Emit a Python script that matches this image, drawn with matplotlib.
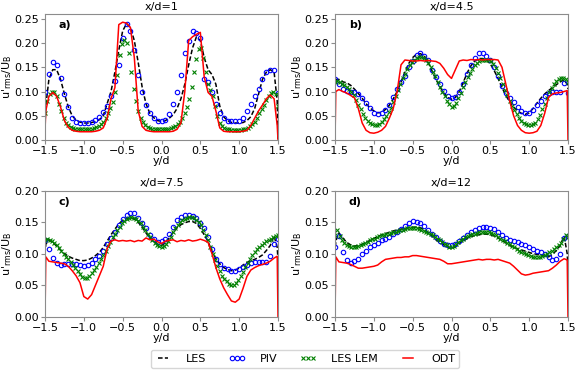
import numpy as np
import matplotlib
matplotlib.use('Agg')
import matplotlib.pyplot as plt

plt.rcParams['font.family'] = ['DejaVu Sans']
plt.rcParams['font.size'] = 8

# sample positions (y/d)
y_line = np.r_[-1.5, -1.49, np.round(np.arange(-1.45, 1.451, 0.05), 2), 1.49, 1.5]
y_piv = np.round(np.arange(-1.5, 1.501, 0.05), 2)
y_lem = np.round(np.arange(-1.5, 1.501, 0.03), 2)

titles = ['x/d=1', 'x/d=4.5', 'x/d=7.5', 'x/d=12']
tags = ['a)', 'b)', 'c)', 'd)']
y_tops = [0.26, 0.26, 0.2, 0.2]

# ---- x/d = 1
les_a = [0.03, 0.07,
         0.125, 0.145, 0.145, 0.125, 0.095, 0.068, 0.05, 0.041, 0.037, 0.035,
         0.035, 0.036, 0.038, 0.042, 0.05, 0.075, 0.1, 0.14, 0.185, 0.225,
         0.24, 0.232, 0.205, 0.16, 0.11, 0.075, 0.055, 0.046, 0.04, 0.038,
         0.04, 0.045, 0.052, 0.065, 0.085, 0.115, 0.155, 0.19, 0.213, 0.205,
         0.17, 0.145, 0.135, 0.115, 0.07, 0.048, 0.04, 0.036, 0.035, 0.035,
         0.036, 0.04, 0.048, 0.065, 0.095, 0.125, 0.14, 0.145, 0.14,
         0.08, 0.0]
odt_a = [0.02, 0.06,
         0.09, 0.098, 0.09, 0.068, 0.04, 0.026, 0.02, 0.018, 0.017, 0.017,
         0.017, 0.017, 0.018, 0.02, 0.025, 0.045, 0.085, 0.108, 0.238, 0.243,
         0.241, 0.232, 0.17, 0.06, 0.028, 0.02, 0.018, 0.017, 0.017, 0.017,
         0.017, 0.017, 0.018, 0.022, 0.035, 0.1, 0.205, 0.213, 0.218, 0.222,
         0.13, 0.098, 0.09, 0.06, 0.025, 0.018, 0.017, 0.017, 0.017, 0.017,
         0.018, 0.02, 0.03, 0.045, 0.06, 0.072, 0.085, 0.093, 0.085,
         0.03, 0.0]
piv_a = [0.1, 0.137, 0.16, 0.155, 0.128, 0.095, 0.068, 0.046, 0.037, 0.035,
         0.035, 0.036, 0.037, 0.042, 0.048, 0.058, 0.07, 0.09, 0.122, 0.155,
         0.21, 0.24, 0.225, 0.185, 0.135, 0.1, 0.072, 0.055, 0.046, 0.04,
         0.039, 0.042, 0.053, 0.075, 0.1, 0.135, 0.18, 0.205, 0.224, 0.22,
         0.21, 0.125, 0.12, 0.1, 0.075, 0.055, 0.045, 0.04, 0.039, 0.04,
         0.04, 0.045, 0.06, 0.075, 0.09, 0.105, 0.125, 0.14, 0.145, 0.145, 0.097]
lem_a = [0.055, 0.08, 0.095, 0.1, 0.098, 0.09, 0.075, 0.06, 0.045, 0.035,
         0.03, 0.026, 0.024, 0.023, 0.022, 0.022, 0.022, 0.022, 0.022, 0.022,
         0.023, 0.024, 0.026, 0.029, 0.033, 0.038, 0.045, 0.055, 0.065, 0.078,
         0.1, 0.135, 0.175, 0.198, 0.207, 0.2, 0.18, 0.14, 0.105, 0.08,
         0.06, 0.046, 0.037, 0.031, 0.027, 0.025, 0.023, 0.022, 0.022, 0.022,
         0.022, 0.022, 0.022, 0.023, 0.024, 0.026, 0.028, 0.032, 0.037, 0.045,
         0.055, 0.068, 0.085, 0.11, 0.14, 0.168, 0.188, 0.19, 0.17, 0.14,
         0.115, 0.103, 0.09, 0.07, 0.05, 0.036, 0.029, 0.025, 0.023, 0.022,
         0.021, 0.021, 0.021, 0.021, 0.021, 0.022, 0.023, 0.025, 0.028, 0.032,
         0.038, 0.046, 0.055, 0.064, 0.073, 0.082, 0.09, 0.097, 0.1, 0.095,
         0.07]

# ---- x/d = 4.5
les_b = [0.125, 0.125,
         0.125, 0.12, 0.118, 0.113, 0.105, 0.096, 0.086, 0.075, 0.066, 0.06,
         0.056, 0.057, 0.063, 0.072, 0.085, 0.1, 0.12, 0.14, 0.158, 0.17,
         0.177, 0.178, 0.173, 0.16, 0.142, 0.125, 0.11, 0.097, 0.088, 0.084,
         0.088, 0.1, 0.118, 0.138, 0.153, 0.163, 0.168, 0.168, 0.165, 0.157,
         0.143, 0.127, 0.108, 0.092, 0.078, 0.068, 0.06, 0.055, 0.053, 0.056,
         0.065, 0.076, 0.086, 0.095, 0.102, 0.108, 0.114, 0.12, 0.124,
         0.115, 0.105]
odt_b = [0.0, 0.1,
         0.104, 0.1, 0.097, 0.092, 0.087, 0.065, 0.035, 0.02, 0.015, 0.014,
         0.016, 0.02, 0.028, 0.045, 0.065, 0.1, 0.155, 0.165, 0.164, 0.163,
         0.163, 0.164, 0.163, 0.164, 0.163, 0.162, 0.158, 0.148, 0.135, 0.127,
         0.145, 0.163, 0.165, 0.164, 0.166, 0.165, 0.166, 0.165, 0.166, 0.166,
         0.166, 0.165, 0.15, 0.115, 0.08, 0.05, 0.03, 0.02, 0.015, 0.014,
         0.015, 0.018, 0.03, 0.055, 0.088, 0.095, 0.097, 0.098, 0.1,
         0.102, 0.0]
piv_b = [0.125, 0.116, 0.106, 0.101, 0.1, 0.1, 0.095, 0.087, 0.077, 0.066,
         0.056, 0.053, 0.055, 0.062, 0.072, 0.088, 0.105, 0.12, 0.133, 0.15,
         0.163, 0.175, 0.18, 0.174, 0.164, 0.145, 0.13, 0.115, 0.102, 0.09,
         0.086, 0.088, 0.098, 0.115, 0.137, 0.155, 0.17, 0.18, 0.18, 0.174,
         0.165, 0.15, 0.132, 0.112, 0.096, 0.087, 0.078, 0.068, 0.06, 0.055,
         0.056, 0.062, 0.072, 0.08, 0.09, 0.097, 0.1, 0.1, 0.1, 0.118, 0.097]
lem_b = [0.12, 0.121, 0.119, 0.116, 0.113, 0.11, 0.106, 0.1, 0.092, 0.082,
         0.072, 0.063, 0.054, 0.046, 0.04, 0.035, 0.032, 0.031, 0.031, 0.034,
         0.038, 0.044, 0.05, 0.058, 0.067, 0.078, 0.09, 0.103, 0.116, 0.127,
         0.137, 0.146, 0.154, 0.161, 0.166, 0.17, 0.172, 0.172, 0.169, 0.164,
         0.158, 0.15, 0.141, 0.131, 0.12, 0.11, 0.1, 0.09, 0.081, 0.074,
         0.069, 0.071, 0.077, 0.086, 0.097, 0.109, 0.12, 0.13, 0.139, 0.147,
         0.154, 0.159, 0.163, 0.165, 0.166, 0.166, 0.165, 0.162, 0.157, 0.149,
         0.139, 0.128, 0.116, 0.104, 0.092, 0.08, 0.07, 0.061, 0.053, 0.046,
         0.04, 0.035, 0.032, 0.03, 0.03, 0.032, 0.036, 0.043, 0.052, 0.063,
         0.075, 0.087, 0.098, 0.107, 0.115, 0.121, 0.126, 0.128, 0.128, 0.125,
         0.12]

# ---- x/d = 7.5
les_c = [0.1, 0.115,
         0.122, 0.118, 0.112, 0.106, 0.1, 0.096, 0.093, 0.091, 0.089, 0.089,
         0.09, 0.093, 0.097, 0.102, 0.11, 0.12, 0.13, 0.139, 0.147, 0.153,
         0.156, 0.157, 0.155, 0.15, 0.142, 0.133, 0.125, 0.119, 0.115, 0.113,
         0.117, 0.125, 0.134, 0.141, 0.146, 0.149, 0.151, 0.151, 0.148, 0.14,
         0.13, 0.119, 0.104, 0.092, 0.084, 0.078, 0.075, 0.073, 0.074, 0.077,
         0.082, 0.086, 0.089, 0.091, 0.094, 0.098, 0.105, 0.113, 0.128,
         0.11, 0.09]
odt_c = [0.0, 0.095,
         0.088, 0.087, 0.086, 0.085, 0.084, 0.08, 0.073, 0.065, 0.054, 0.032,
         0.028, 0.035, 0.05, 0.065, 0.08, 0.108, 0.12, 0.122, 0.12, 0.121,
         0.12, 0.121, 0.119, 0.121, 0.12, 0.125, 0.122, 0.123, 0.119, 0.116,
         0.12, 0.121, 0.122, 0.119, 0.121, 0.12, 0.122, 0.12, 0.121, 0.123,
         0.121, 0.118, 0.1, 0.078, 0.06, 0.046, 0.035, 0.025, 0.023, 0.028,
         0.045, 0.064, 0.074, 0.078, 0.081, 0.083, 0.085, 0.088, 0.093,
         0.096, 0.0]
piv_c = [0.122, 0.108, 0.093, 0.085, 0.082, 0.083, 0.084, 0.084, 0.084, 0.082,
         0.08, 0.082, 0.086, 0.091, 0.097, 0.105, 0.115, 0.125, 0.135, 0.146,
         0.155, 0.161, 0.165, 0.164, 0.157, 0.149, 0.14, 0.13, 0.123, 0.119,
         0.12, 0.124, 0.131, 0.142, 0.153, 0.159, 0.161, 0.162, 0.16, 0.156,
         0.149, 0.14, 0.127, 0.107, 0.092, 0.083, 0.078, 0.075, 0.073, 0.073,
         0.076, 0.079, 0.082, 0.085, 0.087, 0.087, 0.087, 0.087, 0.097, 0.115, 0.123]
lem_c = [0.122, 0.124, 0.122, 0.12, 0.117, 0.113, 0.109, 0.105, 0.1, 0.095,
         0.091, 0.087, 0.082, 0.077, 0.072, 0.067, 0.063, 0.062, 0.062, 0.065,
         0.069, 0.074, 0.079, 0.085, 0.091, 0.098, 0.105, 0.112, 0.119, 0.126,
         0.132, 0.138, 0.143, 0.148, 0.152, 0.155, 0.157, 0.158, 0.157, 0.155,
         0.152, 0.148, 0.143, 0.137, 0.131, 0.126, 0.121, 0.117, 0.114, 0.112,
         0.111, 0.112, 0.115, 0.12, 0.127, 0.134, 0.141, 0.146, 0.15, 0.153,
         0.155, 0.157, 0.158, 0.158, 0.157, 0.154, 0.15, 0.145, 0.138, 0.13,
         0.121, 0.111, 0.1, 0.09, 0.08, 0.072, 0.065, 0.06, 0.056, 0.052,
         0.05, 0.05, 0.053, 0.058, 0.064, 0.071, 0.079, 0.086, 0.092, 0.098,
         0.103, 0.107, 0.111, 0.114, 0.117, 0.12, 0.122, 0.124, 0.126, 0.128,
         0.13]

# ---- x/d = 12
les_d = [0.1, 0.12,
         0.133, 0.125, 0.118, 0.114, 0.112, 0.113, 0.115, 0.118, 0.121, 0.124,
         0.127, 0.13, 0.132, 0.134, 0.136, 0.138, 0.139, 0.14, 0.141, 0.142,
         0.142, 0.141, 0.138, 0.134, 0.128, 0.122, 0.118, 0.114, 0.11, 0.108,
         0.111, 0.116, 0.12, 0.124, 0.127, 0.129, 0.13, 0.131, 0.131, 0.13,
         0.128, 0.125, 0.121, 0.117, 0.113, 0.11, 0.108, 0.106, 0.104, 0.102,
         0.1, 0.099, 0.098, 0.096, 0.095, 0.099, 0.105, 0.113, 0.128,
         0.1, 0.075]
odt_d = [0.0, 0.095,
         0.087, 0.086, 0.085, 0.083, 0.08, 0.077, 0.077, 0.078, 0.079, 0.08,
         0.082, 0.087, 0.091, 0.092, 0.093, 0.094, 0.094, 0.095, 0.095, 0.097,
         0.097, 0.096, 0.095, 0.094, 0.093, 0.092, 0.091, 0.088, 0.084, 0.084,
         0.085, 0.086, 0.087, 0.088, 0.089, 0.09, 0.091, 0.09, 0.091, 0.091,
         0.09, 0.091, 0.089, 0.087, 0.085, 0.08, 0.074, 0.068, 0.066, 0.067,
         0.069, 0.07, 0.071, 0.072, 0.073, 0.077, 0.082, 0.088, 0.092,
         0.09, 0.0]
piv_d = [0.11, 0.128, 0.103, 0.09, 0.086, 0.088, 0.092, 0.099, 0.105, 0.11,
         0.114, 0.117, 0.121, 0.124, 0.127, 0.131, 0.135, 0.139, 0.144, 0.149,
         0.152, 0.151, 0.148, 0.144, 0.137, 0.131, 0.126, 0.12, 0.116, 0.114,
         0.114, 0.116, 0.12, 0.125, 0.13, 0.134, 0.138, 0.141, 0.142, 0.142,
         0.141, 0.139, 0.135, 0.13, 0.125, 0.122, 0.12, 0.118, 0.116, 0.113,
         0.11, 0.108, 0.105, 0.103, 0.1, 0.094, 0.09, 0.092, 0.1, 0.125, 0.128]
lem_d = [0.13, 0.137, 0.128, 0.121, 0.117, 0.114, 0.112, 0.111, 0.111, 0.111,
         0.112, 0.113, 0.115, 0.117, 0.119, 0.121, 0.123, 0.124, 0.126, 0.128,
         0.129, 0.13, 0.131, 0.132, 0.133, 0.134, 0.135, 0.136, 0.137, 0.138,
         0.139, 0.14, 0.14, 0.141, 0.141, 0.14, 0.139, 0.137, 0.136, 0.134,
         0.133, 0.131, 0.129, 0.127, 0.124, 0.121, 0.118, 0.115, 0.113, 0.111,
         0.11, 0.112, 0.115, 0.118, 0.121, 0.124, 0.126, 0.128, 0.13, 0.131,
         0.132, 0.133, 0.134, 0.135, 0.135, 0.135, 0.134, 0.133, 0.132, 0.13,
         0.127, 0.124, 0.122, 0.12, 0.117, 0.115, 0.112, 0.11, 0.108, 0.105,
         0.103, 0.101, 0.099, 0.098, 0.096, 0.095, 0.094, 0.094, 0.094, 0.096,
         0.098, 0.1, 0.102, 0.104, 0.107, 0.11, 0.113, 0.117, 0.123, 0.13,
         0.127]

les = [les_a, les_b, les_c, les_d]
odt = [odt_a, odt_b, odt_c, odt_d]
piv = [piv_a, piv_b, piv_c, piv_d]
lem = [lem_a, lem_b, lem_c, lem_d]

fig = plt.figure(figsize=(5.8, 3.74), dpi=100)
w, h = 0.4017, 0.337
pos = [(0.0776, 0.6257), (0.5776, 0.6257), (0.0776, 0.1532), (0.5776, 0.1532)]

for i in range(4):
    ax = fig.add_axes([pos[i][0], pos[i][1], w, h])
    l1, = ax.plot(y_line, les[i], color='k', ls='--', dashes=(3, 1.5), lw=1.1, label='LES')
    l2, = ax.plot(y_piv, piv[i], 'o', mfc='none', mec='blue', ms=3.2, mew=0.8, label='PIV')
    l3, = ax.plot(y_lem, lem[i], 'x', color='green', ms=2.8, mew=0.8, label='LES LEM')
    l4, = ax.plot(y_line, odt[i], color='red', lw=1.1, label='ODT')
    ax.set_xlim(-1.5, 1.5)
    ax.set_ylim(0, y_tops[i])
    ax.set_xticks(np.arange(-1.5, 1.51, 0.5))
    ax.set_yticks(np.arange(0, y_tops[i] + 0.001, 0.05))
    ax.yaxis.set_major_formatter(matplotlib.ticker.FormatStrFormatter('%.2f'))
    ax.set_title(titles[i], fontsize=8, pad=3)
    ax.set_xlabel('y/d', labelpad=0)
    ax.set_ylabel(r"u'$_{\rm rms}$/U$_{\rm B}$", labelpad=0)
    ax.text(0.06, 0.95, tags[i], transform=ax.transAxes, fontweight='bold', va='top')
    for sp in ax.spines.values():
        sp.set_color('0.55')
    ax.tick_params(color='0.55', length=3, pad=1.5)

fig.legend([l1, l2, l3, l4], ['LES', 'PIV', 'LES LEM', 'ODT'], loc='lower center',
           bbox_to_anchor=(0.526, 0.0), ncol=4, numpoints=3, handlelength=1.5,
           handletextpad=1.3, columnspacing=2.0, fontsize=8)

fig.savefig('out.png', dpi=100)
